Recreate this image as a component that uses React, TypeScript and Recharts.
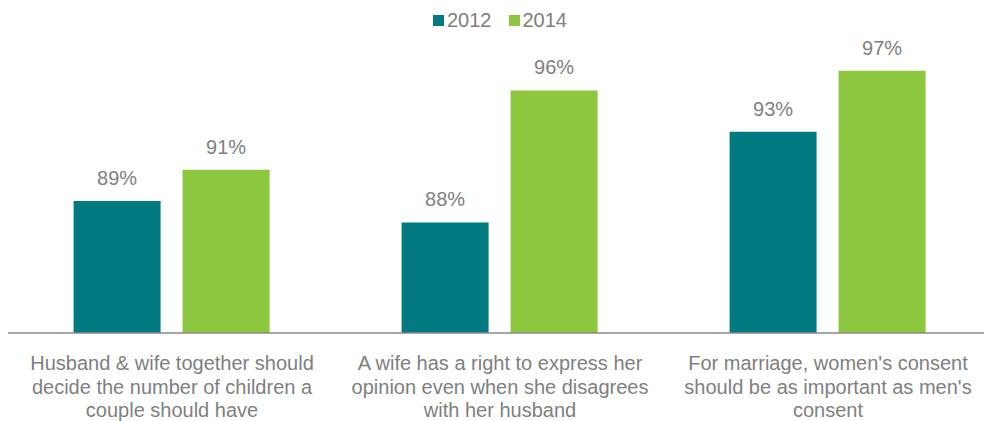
import { BarChart, Bar, XAxis, YAxis, Legend, LabelList } from 'recharts'

const categories = [
  'Husband & wife together should\ndecide the number of children a\ncouple should have',
  'A wife has a right to express her\nopinion even when she disagrees\nwith her husband',
  "For marriage, women's consent\nshould be as important as men's\nconsent",
]
const values2012 = [89.0, 87.7, 93.2]
const values2014 = [90.9, 95.7, 96.9]
const seriesNames = ['2012', '2014']
const seriesColors = ['#007a80', '#8dc63f']

const data = categories.map((name, i) => ({
  name,
  y2012: values2012[i],
  y2014: values2014[i],
}))

const font = 'Arial, "Liberation Sans", sans-serif'
const gray = '#808080'

function CategoryTick({ x, y, payload }: any) {
  const lines = String(payload.value).split('\n')
  return (
    <text x={x} y={y + 29} textAnchor="middle" fill={gray} fontSize={20} fontFamily={font}>
      {lines.map((l, i) => (
        <tspan key={i} x={x} dy={i === 0 ? 0 : 23.5}>
          {l}
        </tspan>
      ))}
    </text>
  )
}

function valueLabel(props: any) {
  const { x, y, width, value } = props
  return (
    <text x={x + width / 2} y={y - 16} textAnchor="middle" fill={gray} fontSize={20} fontFamily={font}>
      {Math.round(value)}%
    </text>
  )
}

function LegendContent() {
  return (
    <div style={{ display: 'flex', justifyContent: 'center', alignItems: 'center', fontFamily: font, fontSize: 20, color: gray, lineHeight: '24px' }}>
      {seriesNames.map((n, i) => (
        <div key={n} style={{ display: 'flex', alignItems: 'center', marginRight: i === 0 ? 17 : 0 }}>
          <div style={{ width: 11, height: 11, background: seriesColors[i], marginRight: 3 }} />
          <span>{n}</span>
        </div>
      ))}
    </div>
  )
}

export default function App() {
  return (
    <BarChart
      width={984}
      height={413}
      data={data}
      margin={{ top: 28, right: 0, bottom: 0, left: 0 }}
      barCategoryGap="20%"
      barGap={22}
    >
      <XAxis
        dataKey="name"
        height={88}
        tickLine={false}
        axisLine={{ stroke: '#8a8a8a', strokeWidth: 1.5 }}
        tick={<CategoryTick />}
        interval={0}
      />
      <YAxis hide domain={[81, 99]} allowDataOverflow />
      <Legend
        layout="horizontal"
        verticalAlign="middle"
        align="center"
        content={<LegendContent />}
        wrapperStyle={{ top: 0, left: 0, width: 984 }}
      />
      <Bar dataKey="y2012" name={seriesNames[0]} fill={seriesColors[0]} isAnimationActive={false}>
        <LabelList dataKey="y2012" content={valueLabel} />
      </Bar>
      <Bar dataKey="y2014" name={seriesNames[1]} fill={seriesColors[1]} isAnimationActive={false}>
        <LabelList dataKey="y2014" content={valueLabel} />
      </Bar>
    </BarChart>
  )
}
